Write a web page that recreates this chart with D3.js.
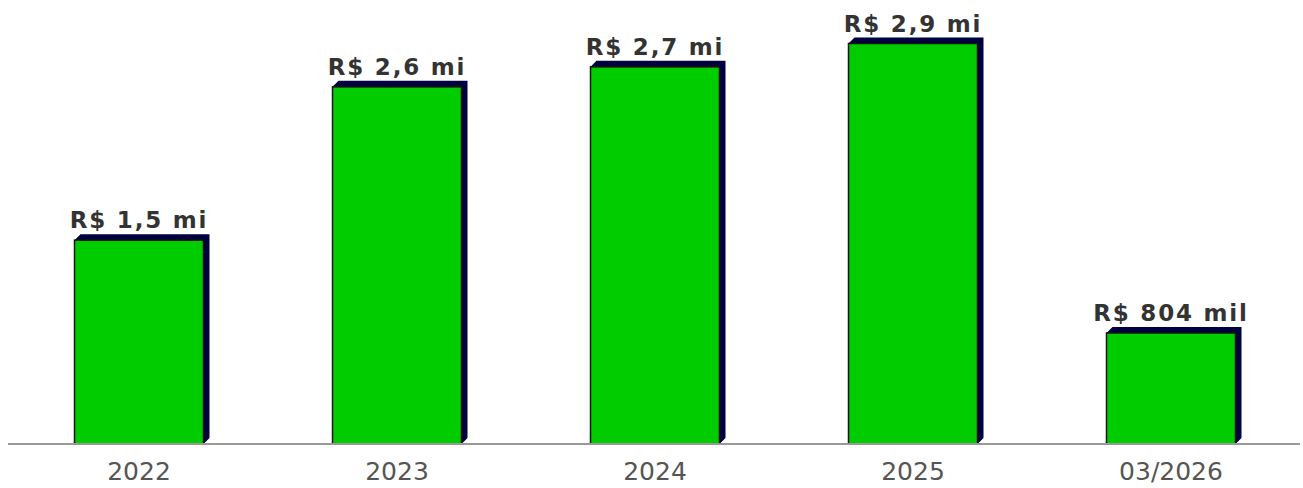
<!DOCTYPE html>
<html>
<head>
<meta charset="utf-8">
<script src="https://cdn.jsdelivr.net/npm/d3@7"></script>
<style>
  html, body { margin: 0; padding: 0; background: #fff; }
  svg { display: block; }
  .val { font-family: "DejaVu Sans", sans-serif; font-weight: bold; font-size: 23px; letter-spacing: 1.8px; fill: #333; }
  .cat { font-family: "DejaVu Sans", sans-serif; font-size: 25px; fill: #555; }
</style>
</head>
<body>
<svg id="chart" width="1303" height="488"></svg>
<script>
// ── Data ─────────────────────────────────────────────────────────────
const categories = ['2022', '2023', '2024', '2025', '03/2026'];
const values = [1476000, 2586000, 2731000, 2900000, 804000];
const valueLabels = ['R$ 1,5 mi', 'R$ 2,6 mi', 'R$ 2,7 mi', 'R$ 2,9 mi', 'R$ 804 mil'];

// ── Layout ───────────────────────────────────────────────────────────
const baseY = 444;
const depth = 6;

const svg = d3.select('#chart');

const x = d3.scaleBand()
  .domain(categories)
  .range([10, 1300])
  .paddingInner(0.5)
  .paddingOuter(0.25);

const y = d3.scaleLinear()
  .domain([0, d3.max(values)])
  .range([baseY, 43.5]);

const rows = categories.map((c, i) => ({ cat: c, value: values[i], label: valueLabels[i] }));

// ── Bars (3D back face + front face) ─────────────────────────────────
const bars = svg.append('g')
  .selectAll('g')
  .data(rows)
  .join('g');

bars.append('polygon')
  .attr('fill', '#000040')
  .attr('points', d => {
    const x0 = x(d.cat), x1 = x0 + x.bandwidth(), y0 = y(d.value);
    return [
      [x0, y0], [x0 + depth, y0 - depth], [x1 + depth, y0 - depth],
      [x1 + depth, baseY - depth], [x1, baseY]
    ].map(p => p.join(',')).join(' ');
  });

bars.append('rect')
  .attr('x', d => x(d.cat))
  .attr('y', d => y(d.value))
  .attr('width', x.bandwidth())
  .attr('height', d => baseY - y(d.value))
  .attr('fill', '#00cc00')
  .attr('stroke', '#111')
  .attr('stroke-width', 1.5);

// ── Value labels ─────────────────────────────────────────────────────
bars.append('text')
  .attr('class', 'val')
  .attr('text-anchor', 'middle')
  .attr('x', d => x(d.cat) + x.bandwidth() / 2)
  .attr('y', d => y(d.value) - depth - 6)
  .text(d => d.label);

// ── Axis ─────────────────────────────────────────────────────────────
const axis = svg.append('g')
  .attr('transform', `translate(0,${baseY})`)
  .call(d3.axisBottom(x).tickSize(0).tickPadding(18));

axis.select('.domain')
  .attr('d', 'M8,0H1300')
  .attr('stroke', '#999')
  .attr('stroke-width', 2);

axis.selectAll('text')
  .attr('class', 'cat')
  .attr('font-size', null)
  .attr('font-family', null)
  .attr('fill', null);
</script>
</body>
</html>
